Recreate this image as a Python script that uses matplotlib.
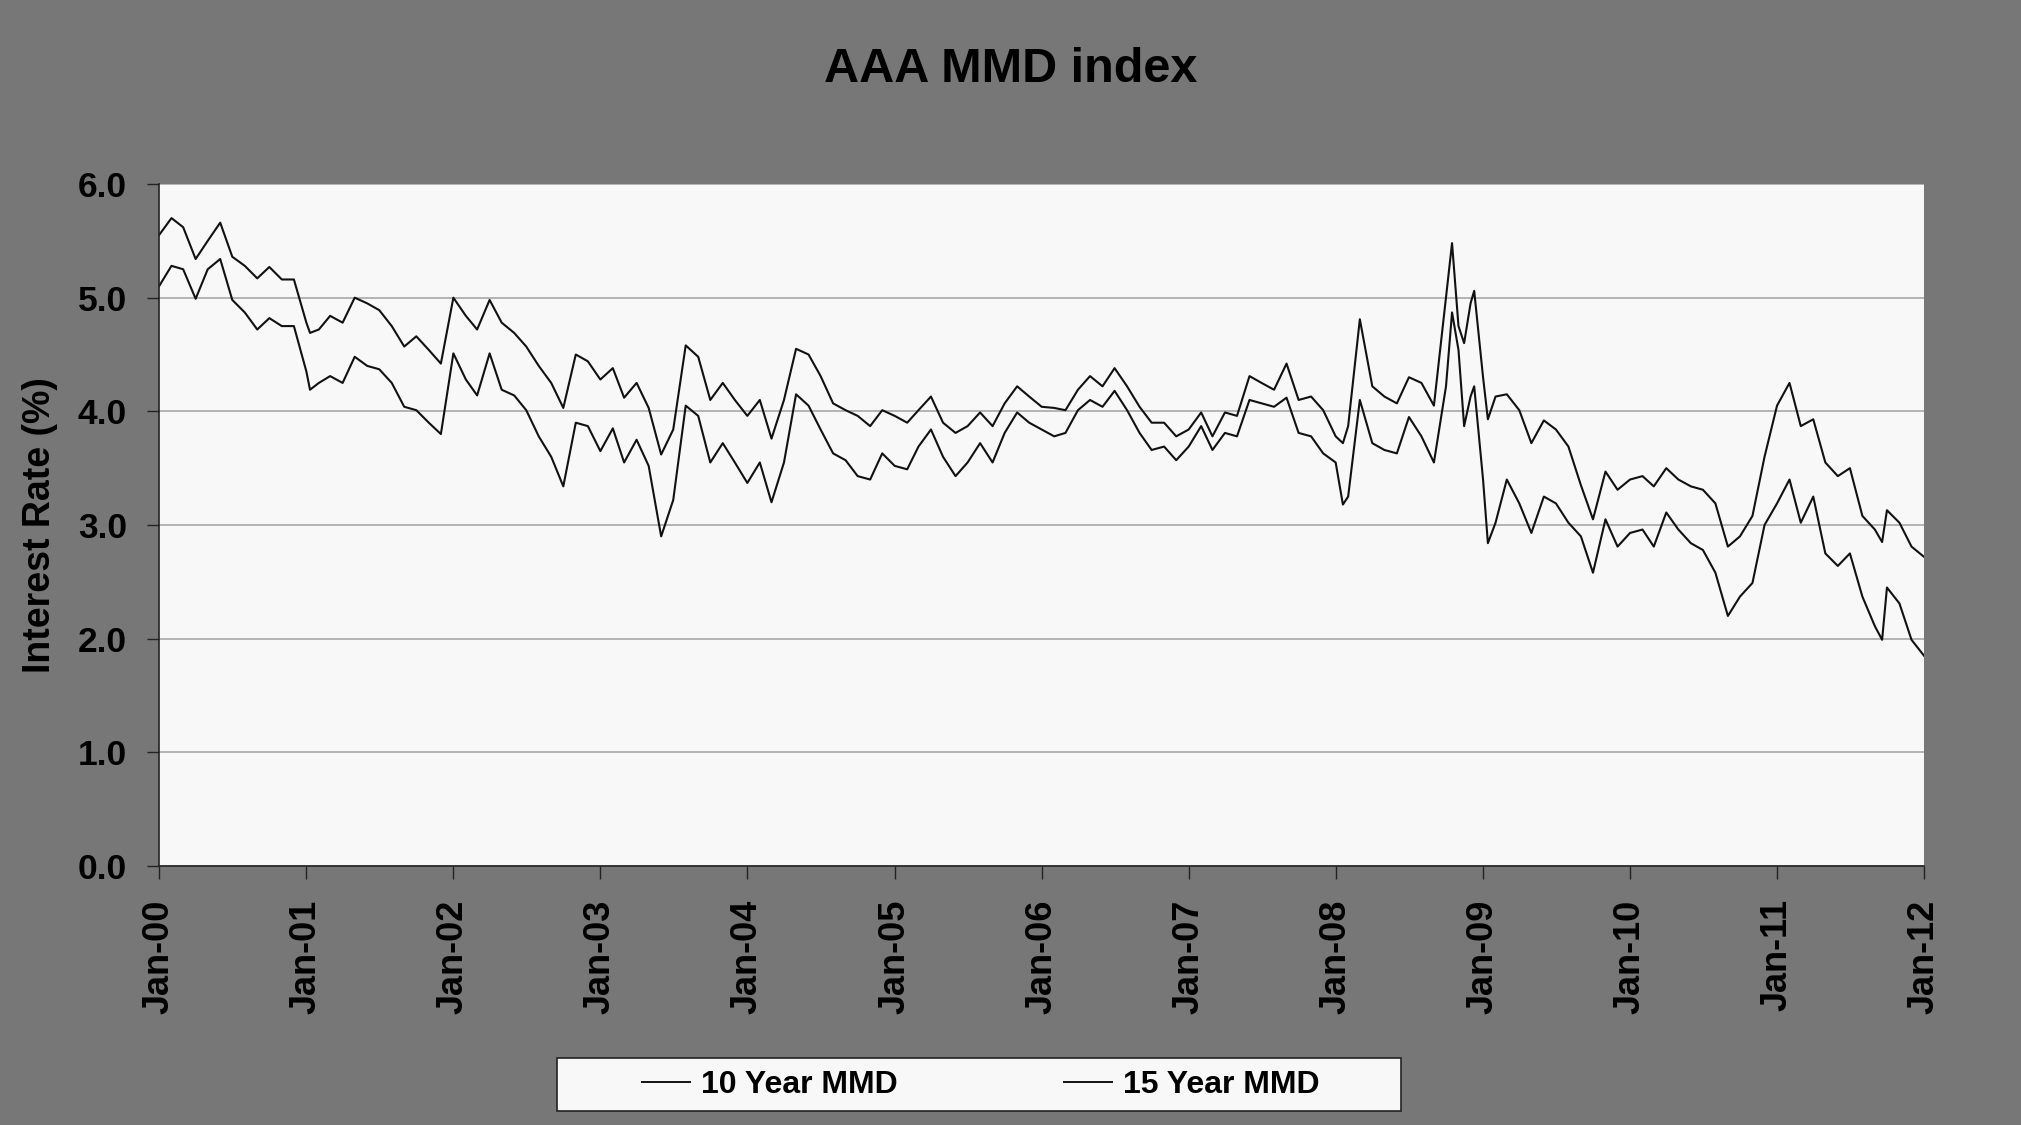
import matplotlib
matplotlib.use('Agg')
import matplotlib.pyplot as plt
import matplotlib.dates as mdates
from matplotlib.patches import Rectangle
from matplotlib.lines import Line2D
import pandas as pd

# monthly readings, Jan 2000 .. Jan 2012
dates = pd.date_range('2000-01-01', periods=145, freq='MS')

mmd_15y = [
    5.55, 5.70, 5.62, 5.34, 5.50, 5.66, 5.36, 5.28, 5.17, 5.27, 5.16, 5.16,
    4.78, 4.72, 4.84, 4.78, 5.00, 4.95, 4.89, 4.75, 4.57, 4.66, 4.54, 4.42,
    5.00, 4.84, 4.72, 4.98, 4.78, 4.69, 4.57, 4.40, 4.25, 4.03, 4.50, 4.44,
    4.28, 4.38, 4.12, 4.25, 4.03, 3.62, 3.84, 4.58, 4.48, 4.10, 4.25, 4.10,
    3.96, 4.10, 3.76, 4.10, 4.55, 4.50, 4.31, 4.07, 4.01, 3.96, 3.87, 4.01,
    3.96, 3.90, 4.01, 4.13, 3.90, 3.81, 3.87, 3.99, 3.87, 4.07, 4.22, 4.13,
    4.04, 4.03, 4.01, 4.19, 4.31, 4.22, 4.38, 4.22, 4.04, 3.90, 3.90, 3.78,
    3.84, 3.99, 3.78, 3.99, 3.96, 4.31, 4.25, 4.19, 4.42, 4.10, 4.13, 4.01,
    3.78, 3.87, 4.81, 4.22, 4.13, 4.07, 4.30, 4.25, 4.05, 5.00, 4.75, 4.95,
    4.30, 4.13, 4.15, 4.01, 3.72, 3.92, 3.84, 3.69, 3.35, 3.05, 3.47, 3.31,
    3.40, 3.43, 3.34, 3.50, 3.40, 3.34, 3.31, 3.19, 2.81, 2.90, 3.08, 3.60,
    4.05, 4.25, 3.87, 3.93, 3.55, 3.43, 3.50, 3.08, 2.96, 3.13, 3.02, 2.81,
    2.72,
]

mmd_10y = [
    5.10, 5.28, 5.25, 4.99, 5.25, 5.34, 4.98, 4.87, 4.72, 4.82, 4.75, 4.75,
    4.35, 4.25, 4.31, 4.25, 4.48, 4.40, 4.37, 4.25, 4.04, 4.01, 3.90, 3.80,
    4.51, 4.28, 4.14, 4.51, 4.19, 4.14, 4.01, 3.78, 3.60, 3.34, 3.90, 3.87,
    3.65, 3.85, 3.55, 3.75, 3.52, 2.90, 3.22, 4.05, 3.96, 3.55, 3.72, 3.55,
    3.37, 3.55, 3.20, 3.55, 4.15, 4.05, 3.84, 3.63, 3.57, 3.43, 3.40, 3.63,
    3.52, 3.49, 3.69, 3.84, 3.60, 3.43, 3.55, 3.72, 3.55, 3.81, 3.99, 3.90,
    3.84, 3.78, 3.81, 4.01, 4.10, 4.04, 4.18, 4.01, 3.81, 3.66, 3.69, 3.57,
    3.69, 3.87, 3.66, 3.81, 3.78, 4.10, 4.07, 4.04, 4.12, 3.81, 3.78, 3.63,
    3.55, 3.25, 4.10, 3.72, 3.66, 3.63, 3.95, 3.78, 3.55, 4.22, 4.54, 4.13,
    3.40, 3.02, 3.40, 3.19, 2.93, 3.25, 3.19, 3.02, 2.90, 2.58, 3.05, 2.81,
    2.93, 2.96, 2.81, 3.11, 2.96, 2.84, 2.78, 2.58, 2.20, 2.37, 2.49, 3.00,
    3.19, 3.40, 3.02, 3.25, 2.75, 2.64, 2.75, 2.37, 2.11, 2.45, 2.31, 1.99,
    1.85,
]

# extra readings at the sharp peaks and troughs between month starts
extra_dates = pd.to_datetime(['2001-01-10', '2008-01-19', '2008-10-16',
                              '2008-11-15', '2008-12-10', '2009-01-13',
                              '2011-09-19'])
extra_15y = [4.69, 3.72, 5.48, 4.60, 5.06, 3.93, 2.85]
extra_10y = [4.19, 3.18, 4.87, 3.87, 4.22, 2.84, 1.99]

y_ticks = [0.0, 1.0, 2.0, 3.0, 4.0, 5.0, 6.0]

df = pd.concat([
    pd.DataFrame({'date': dates, 'y10': mmd_10y, 'y15': mmd_15y}),
    pd.DataFrame({'date': extra_dates, 'y10': extra_10y, 'y15': extra_15y}),
]).sort_values('date')

plt.rcParams['font.family'] = ['Liberation Sans', 'DejaVu Sans']
plt.rcParams['font.weight'] = 'bold'

W, H = 2021, 1125
fig = plt.figure(figsize=(W / 100, H / 100), dpi=100, facecolor='#777777')
ax = fig.add_axes([159 / W, 259 / H, 1765 / W, 682 / H])
ax.set_facecolor('#f8f8f8')

ax.plot(df['date'], df['y10'], color='#111111', lw=1.5, label='10 Year MMD')
ax.plot(df['date'], df['y15'], color='#111111', lw=1.5, label='15 Year MMD')

ax.set_ylim(0, 6)
ax.set_xlim(pd.Timestamp('2000-01-01'), pd.Timestamp('2012-01-01'))
ax.set_yticks(y_ticks)
ax.set_yticklabels([f'{v:.1f}' for v in y_ticks])
ax.yaxis.grid(True, color='#a8a8a8', lw=1.2)
ax.set_axisbelow(True)

ax.xaxis.set_major_locator(mdates.YearLocator())
ax.xaxis.set_major_formatter(mdates.DateFormatter('%b-%y'))
ax.tick_params(axis='x', labelsize=26, rotation=90, length=9, width=1,
               color='#222222', pad=15)
ax.tick_params(axis='y', labelsize=25.5, length=9, width=1,
               color='#222222', pad=14)

for s in ['top', 'right']:
    ax.spines[s].set_visible(False)
for s in ['left', 'bottom']:
    ax.spines[s].set_color('#222222')
    ax.spines[s].set_linewidth(1.2)

fig.text(0.5, 1 - 70 / H, 'AAA MMD index', ha='center', va='center',
         fontsize=35, fontweight='bold')
fig.text(40 / W, 1 - 525 / H, 'Interest Rate (%)', ha='center', va='center',
         rotation=90, fontsize=27, fontweight='bold')

# legend box
fig.add_artist(Rectangle((557 / W, 14 / H), 844 / W, 53 / H,
                         transform=fig.transFigure, facecolor='#f8f8f8',
                         edgecolor='#222222', lw=1.2))
handles = [Line2D([], [], color='#111111', lw=1.4),
           Line2D([], [], color='#111111', lw=1.4)]
fig.legend(handles, ['10 Year MMD', '15 Year MMD'], ncol=2, loc='center',
           bbox_to_anchor=(981 / W, 1 - 1085 / H), frameon=False,
           prop={'size': 23, 'weight': 'bold'}, handlelength=1.5,
           handletextpad=0.35, columnspacing=5.2)

fig.savefig('out.png', dpi=100, facecolor=fig.get_facecolor())
